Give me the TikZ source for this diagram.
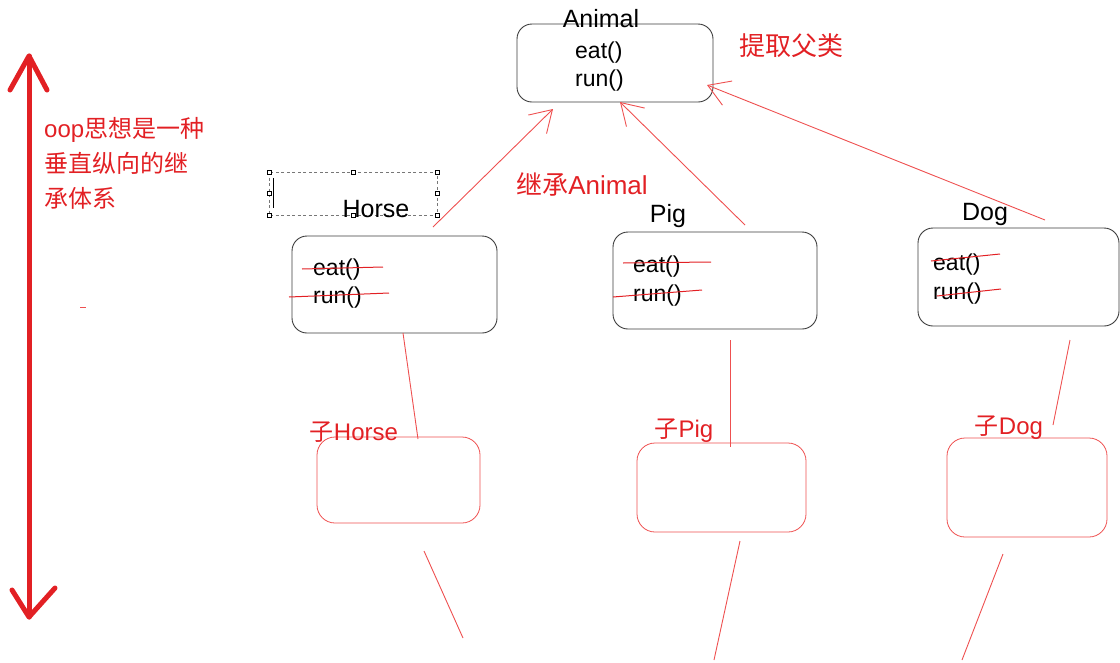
\documentclass[tikz,border=0pt]{standalone}
\usepackage{fontspec}
\setmainfont{Liberation Sans}
\newfontfamily\cjk{Noto Sans CJK SC}
\usetikzlibrary{arrows.meta}
\definecolor{myred}{RGB}{226,32,36}
\definecolor{lred}{RGB}{238,80,80}
\definecolor{boxgray}{RGB}{60,60,60}
\begin{document}
\begin{tikzpicture}[x=1pt,y=-1pt,
  pbox/.style={draw=boxgray, line width=0.9pt, rounded corners=15pt, inner sep=0},
  cbox/.style={draw=lred, line width=0.8pt, rounded corners=18pt, inner sep=0},
  lbl/.style={font=\fontsize{25}{30}\selectfont, inner sep=0},
  mth/.style={font=\fontsize{23}{27}\selectfont, inner sep=0, anchor=west},
  rtxt/.style={text=myred, font=\fontsize{24}{30}\selectfont, inner sep=0},
  bigr/.style={rtxt, font=\fontsize{26}{30}\selectfont},
  rline/.style={draw=lred, line width=0.9pt},
  strike/.style={draw=myred, line width=1pt},
  inh/.style={rline, -{Straight Barb[length=21pt,width=26pt,line width=0.9pt]}},
  handle/.style={draw=black, fill=white, line width=0.5pt, minimum size=4pt, inner sep=0}
]
\useasboundingbox (0,0) rectangle (1120,662);

% left vertical double arrow
\coordinate (vt) at (29,56);
\coordinate (vb) at (29,617);
\draw[myred, line width=5pt, line cap=round, line join=round] (vt) -- (vb);
\draw[myred, line width=5pt, line cap=round, line join=round] (10,90) -- (vt) -- (47,90);
\draw[myred, line width=5pt, line cap=round, line join=round] (12,590) -- (vb) -- (55,588);
\node[rtxt, anchor=west] (note) at (44,166) {\begin{tabular}{@{}l@{}}oop{\cjk 思想是一种}\\[5pt]{\cjk 垂直纵向的继}\\[5pt]{\cjk 承体系}\end{tabular}};
\draw[lred, line width=1pt] (80,307) -- (86,307);

% Animal
\node[pbox, minimum width=196pt, minimum height=78pt] (animal) at (615,63) {};
\node[lbl] (animalT) at (601,19) {Animal};
\node[mth] (aeat) at (575,53) {eat()};
\node[mth] (arun) at (575,81) {run()};
\node[bigr] (extract) at (791,46) {\cjk 提取父类};

% Horse
\draw[boxgray!70, line width=0.6pt, dash pattern=on 3pt off 2.5pt] (269,172) rectangle (437,215);
\foreach \p in {(269,172),(353,172),(437,172),(269,193.5),(437,193.5),(269,215),(353,215),(437,215)}
  \node[handle] at \p {};
\draw[black, line width=0.8pt] (273,178) -- (273,208);
\node[lbl] (horseT) at (376,209) {Horse};
\node[pbox, minimum width=205pt, minimum height=97pt] (horse) at (394.5,284.5) {};
\node[mth] (heat) at (313,270) {eat()};
\node[mth] (hrun) at (313,298) {run()};
\draw[strike] (302,269) -- (383,267);
\draw[strike] (289,297) -- (389,293);

% Pig
\node[lbl] (pigT) at (668,216) {Pig};
\node[pbox, minimum width=204pt, minimum height=97pt] (pig) at (715,280.5) {};
\node[mth] (peat) at (633,267) {eat()};
\node[mth] (prun) at (633,296) {run()};
\draw[strike] (623,263) -- (711,262);
\draw[strike] (613,297) -- (702,290);

% Dog
\node[lbl] (dogT) at (985,214) {Dog};
\node[pbox, minimum width=201pt, minimum height=98pt] (dog) at (1018.5,277) {};
\node[mth] (deat) at (933,265) {eat()};
\node[mth] (drun) at (933,294) {run()};
\draw[strike] (931,261) -- (1000,254);
\draw[strike] (937,296) -- (1001,289);

% inheritance arrows
\coordinate (hs) at (433,227);
\coordinate (ht) at (553,109);
\coordinate (ps) at (745,225);
\coordinate (pt) at (620,102);
\coordinate (ds) at (1045,220);
\coordinate (dt) at (707,85);
\draw[inh] (hs) -- (ht);
\draw[inh] (ps) -- (pt);
\draw[inh] (ds) -- (dt);
\node[bigr] (inherit) at (582,184) {{\cjk 继承}Animal};

% child boxes
\node[cbox, minimum width=163pt, minimum height=86pt] (ch) at (398.5,480) {};
\node[cbox, minimum width=169pt, minimum height=89pt] (cp) at (721.5,487.5) {};
\node[cbox, minimum width=160pt, minimum height=99pt] (cd) at (1027,487.5) {};
\node[rtxt] (chT) at (354,432) {{\cjk 子}Horse};
\node[rtxt] (cpT) at (684,431) {{\cjk 子}Pig};
\node[rtxt] (cdT) at (1009,428) {{\cjk 子}Dog};

% vertical links
\coordinate (h1) at (403,333);
\coordinate (h2) at (418,439);
\coordinate (p1) at (730,340);
\coordinate (p2) at (730,447);
\coordinate (d1) at (1070,340);
\coordinate (d2) at (1053,425);
\draw[rline] (h1) -- (h2);
\draw[rline] (p1) -- (p2);
\draw[rline] (d1) -- (d2);

% lower lines
\coordinate (h3) at (424,551);
\coordinate (h4) at (463,638);
\coordinate (p3) at (740,541);
\coordinate (p4) at (714,660);
\coordinate (d3) at (1003,554);
\coordinate (d4) at (962,660);
\draw[rline] (h3) -- (h4);
\draw[rline] (p3) -- (p4);
\draw[rline] (d3) -- (d4);
\end{tikzpicture}
\end{document}
